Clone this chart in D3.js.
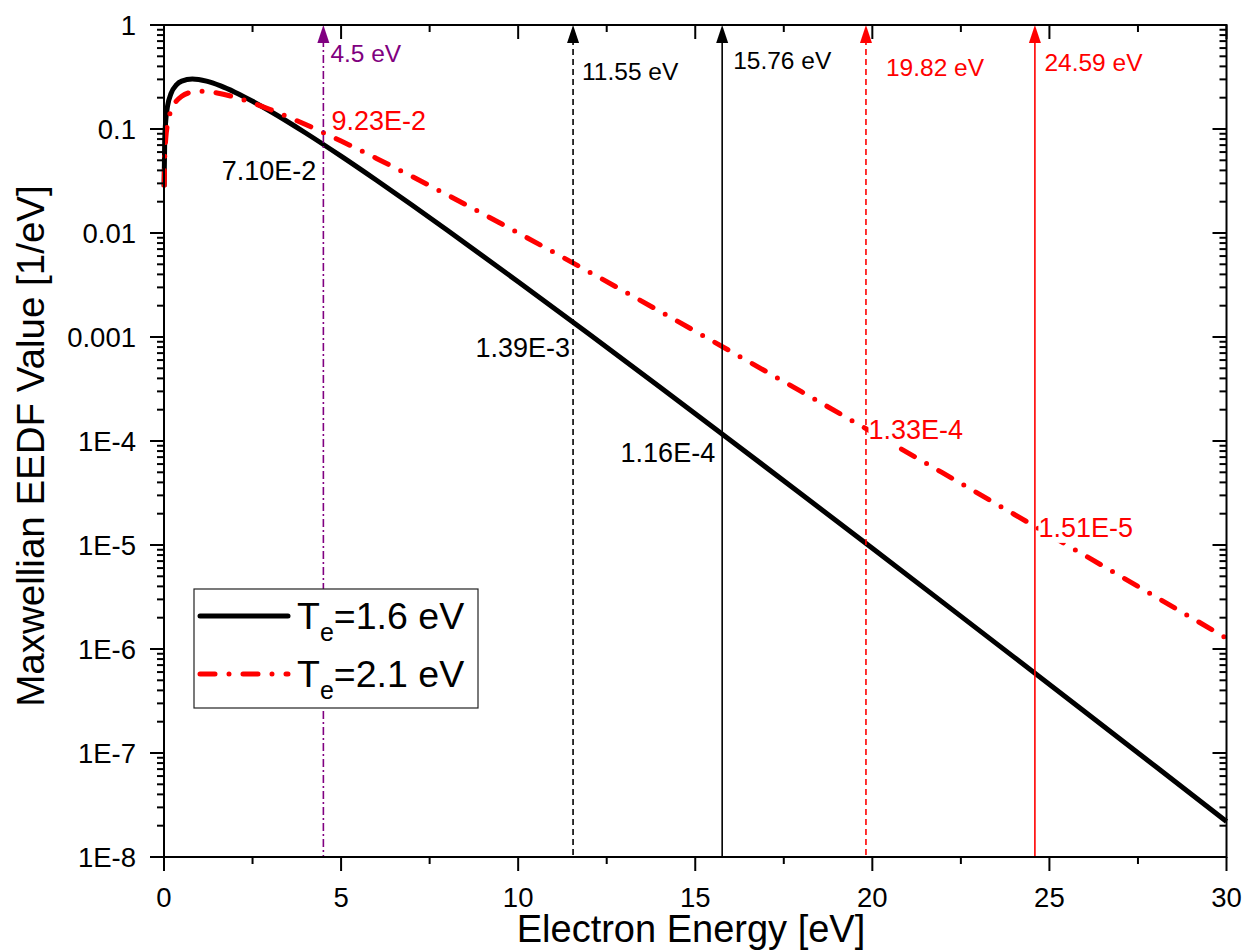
<!DOCTYPE html>
<html><head><meta charset="utf-8">
<script src="https://cdn.jsdelivr.net/npm/d3@7"></script>
<style>body{margin:0;background:#fff}svg{display:block}text{font-family:Arial,"Liberation Sans",sans-serif}</style>
</head><body>
<script>
// ---- data ----
const energyTe16 = [0.0025,0.02,0.05,0.1,0.2,0.35,0.5,0.8,1.2,1.6,2,2.5,3,4,5,6,7,8,10,12,14,16,18,20,22,24,26,28,30];
const eedfTe16 = [0.027833,0.077867,0.120832,0.165625,0.220038,0.265033,0.288427,0.302459,0.288496,0.259438,0.225899,0.184778,0.148090,0.091530,0.054775,0.032118,0.018568,0.010625,3.4036e-3,1.06819e-3,3.30564e-4,1.01247e-4,3.07675e-5,9.29186e-6,2.79209e-6,8.35520e-7,2.49155e-7,7.40789e-8,2.19687e-8];
const energyTe21 = [0.006,0.02,0.05,0.1,0.2,0.35,0.5,0.8,1.05,1.5,2,2.5,3,4,5,6,7,8,10,12,14,16,18,20,22,24,26,28,30];
const eedfTe21 = [0.028639,0.051940,0.080960,0.111801,0.150758,0.185686,0.206636,0.226571,0.230449,0.222312,0.202316,0.178276,0.153910,0.110398,0.076672,0.052163,0.034997,0.023240,0.010026,4.2379e-3,1.7656e-3,7.2820e-4,2.9803e-4,1.21212e-4,4.9050e-5,1.97665e-5,7.9381e-6,3.17838e-6,1.26938e-6];
const seriesNames = ["1.6 eV","2.1 eV"];
const thresholdEnergies = [4.5, 11.55, 15.76, 19.82, 24.59];
const thresholdLabels = ["4.5 eV","11.55 eV","15.76 eV","19.82 eV","24.59 eV"];
const markEnergies = [4.5, 4.5, 11.55, 15.76, 19.82, 24.59];
const markValues = [7.10e-2, 9.23e-2, 1.39e-3, 1.16e-4, 1.33e-4, 1.51e-5];
const markLabels = ["7.10E-2","9.23E-2","1.39E-3","1.16E-4","1.33E-4","1.51E-5"];
const xTicks = [0,5,10,15,20,25,30];
const xMinorTicks = [2.5,7.5,12.5,17.5,22.5,27.5];
const yTicks = [1,0.1,0.01,0.001,1e-4,1e-5,1e-6,1e-7,1e-8];
const yTickLabels = ["1","0.1","0.01","0.001","1E-4","1E-5","1E-6","1E-7","1E-8"];

// ---- styles ----
const thrStyle = [
  {color:"#800080", dash:"8,3,2,3"},
  {color:"#000", dash:"6,4"},
  {color:"#000", dash:null},
  {color:"#ff0000", dash:"6,4"},
  {color:"#ff0000", dash:null}];
const thrLabelPos = [[7,62],[9,80],[11,69],[20,76],[9.5,71]];
const markStyle = [
  {color:"#000", anchor:"end", dx:-7, dy:35.5},
  {color:"#ff0000", anchor:"start", dx:8, dy:-2.6},
  {color:"#000", anchor:"end", dx:-3, dy:35},
  {color:"#000", anchor:"end", dx:-7, dy:28},
  {color:"#ff0000", anchor:"start", dx:2.5, dy:11},
  {color:"#ff0000", anchor:"start", dx:3.5, dy:10.5}];

const W=1247,H=952;
const svg=d3.select("body").append("svg").attr("width",W).attr("height",H);
const L=164,R=1226.5,T=25,B=857;
const x=d3.scaleLinear().domain([0,30]).range([L,R]);
const y=d3.scaleLog().domain([1e-8,1]).range([B,T]);

const yMinor=[];
for(let e=-8;e<0;e++){for(let k=2;k<=9;k++){yMinor.push(k*Math.pow(10,e));}}

const line=d3.line().x(d=>x(d[0])).y(d=>y(d[1])).curve(d3.curveMonotoneX);
const dBlack=energyTe16.map((e,i)=>[e,eedfTe16[i]]);
const dRed=energyTe21.map((e,i)=>[e,eedfTe21[i]]);

svg.append("path").attr("d",line(dBlack)).attr("fill","none").attr("stroke","#000").attr("stroke-width",5).attr("stroke-linejoin","round");
svg.append("path").attr("d",line(dRed)).attr("fill","none").attr("stroke","#ff0000").attr("stroke-width",5).attr("stroke-dasharray","15,14,0,14").attr("stroke-linecap","round");

thresholdEnergies.forEach((e,i)=>{
  const st=thrStyle[i], xx=x(e);
  const ln=svg.append("line").attr("x1",xx).attr("x2",xx).attr("y1",y(1)+14).attr("y2",B)
    .attr("stroke",st.color).attr("stroke-width",1.6);
  if(st.dash) ln.attr("stroke-dasharray",st.dash);
  svg.append("path").attr("d",`M${xx},${y(1)} L${xx-6},${y(1)+18} L${xx+6},${y(1)+18} Z`).attr("fill",st.color);
  svg.append("text").attr("x",xx+thrLabelPos[i][0]).attr("y",thrLabelPos[i][1]).attr("fill",st.color)
    .attr("font-size",24.5).text(thresholdLabels[i]);
});

markEnergies.forEach((e,i)=>{
  const st=markStyle[i];
  const g=svg.append("g");
  const t=g.append("text").attr("x",x(e)+st.dx).attr("y",y(markValues[i])+st.dy).attr("text-anchor",st.anchor)
    .attr("fill",st.color).attr("font-size",27).text(markLabels[i]);
  const bb=t.node().getBBox();
  g.insert("rect","text").attr("x",bb.x).attr("y",bb.y+2).attr("width",bb.width).attr("height",bb.height-2).attr("fill","#fff");
});

const ax=svg.append("g").attr("stroke","#000").attr("stroke-width",2);
ax.append("rect").attr("x",L).attr("y",T).attr("width",R-L).attr("height",B-T).attr("fill","none");
xTicks.forEach(v=>{
  ax.append("line").attr("x1",x(v)).attr("x2",x(v)).attr("y1",B).attr("y2",B+14);
  ax.append("line").attr("x1",x(v)).attr("x2",x(v)).attr("y1",T).attr("y2",T+14);
});
xMinorTicks.forEach(v=>{
  ax.append("line").attr("x1",x(v)).attr("x2",x(v)).attr("y1",B).attr("y2",B+7);
  ax.append("line").attr("x1",x(v)).attr("x2",x(v)).attr("y1",T).attr("y2",T+7);
});
yTicks.forEach(v=>{
  ax.append("line").attr("x1",L-14).attr("x2",L).attr("y1",y(v)).attr("y2",y(v));
  ax.append("line").attr("x1",R-14).attr("x2",R).attr("y1",y(v)).attr("y2",y(v));
});
yMinor.forEach(v=>{
  ax.append("line").attr("x1",L-7).attr("x2",L).attr("y1",y(v)).attr("y2",y(v));
  ax.append("line").attr("x1",R-7).attr("x2",R).attr("y1",y(v)).attr("y2",y(v));
});
xTicks.forEach(v=>{
  svg.append("text").attr("x",x(v)).attr("y",B+50).attr("text-anchor","middle").attr("font-size",27.5).text(d3.format("d")(v));
});
yTicks.forEach((v,i)=>{
  svg.append("text").attr("x",L-28).attr("y",y(v)+9.5).attr("text-anchor","end").attr("font-size",27.5).text(yTickLabels[i]);
});
svg.append("text").attr("x",691).attr("y",942).attr("text-anchor","middle").attr("font-size",38).text("Electron Energy [eV]");
svg.append("text").attr("transform",`translate(44,446) rotate(-90)`).attr("text-anchor","middle").attr("font-size",38.5).text("Maxwellian EEDF Value [1/eV]");

const lg=svg.append("g");
lg.append("rect").attr("x",194).attr("y",589).attr("width",284).attr("height",119).attr("fill","#fff").attr("stroke","#222").attr("stroke-width",1.2);
const legY=[616,674];
const legStyle=[{c:"#000",dash:null},{c:"#ff0000",dash:"15,14,0,14"}];
seriesNames.forEach((n,i)=>{
  const l=lg.append("line").attr("x1",200).attr("x2",288).attr("y1",legY[i]).attr("y2",legY[i]).attr("stroke",legStyle[i].c).attr("stroke-width",5).attr("stroke-linecap","round");
  if(legStyle[i].dash) l.attr("stroke-dasharray",legStyle[i].dash);
  const t=lg.append("text").attr("x",297).attr("y",legY[i]+13).attr("font-size",37.5);
  t.append("tspan").text("T");
  t.append("tspan").attr("font-size",25).attr("dy",12).text("e");
  t.append("tspan").attr("dy",-12).text("="+n);
});
</script>
</body></html>
